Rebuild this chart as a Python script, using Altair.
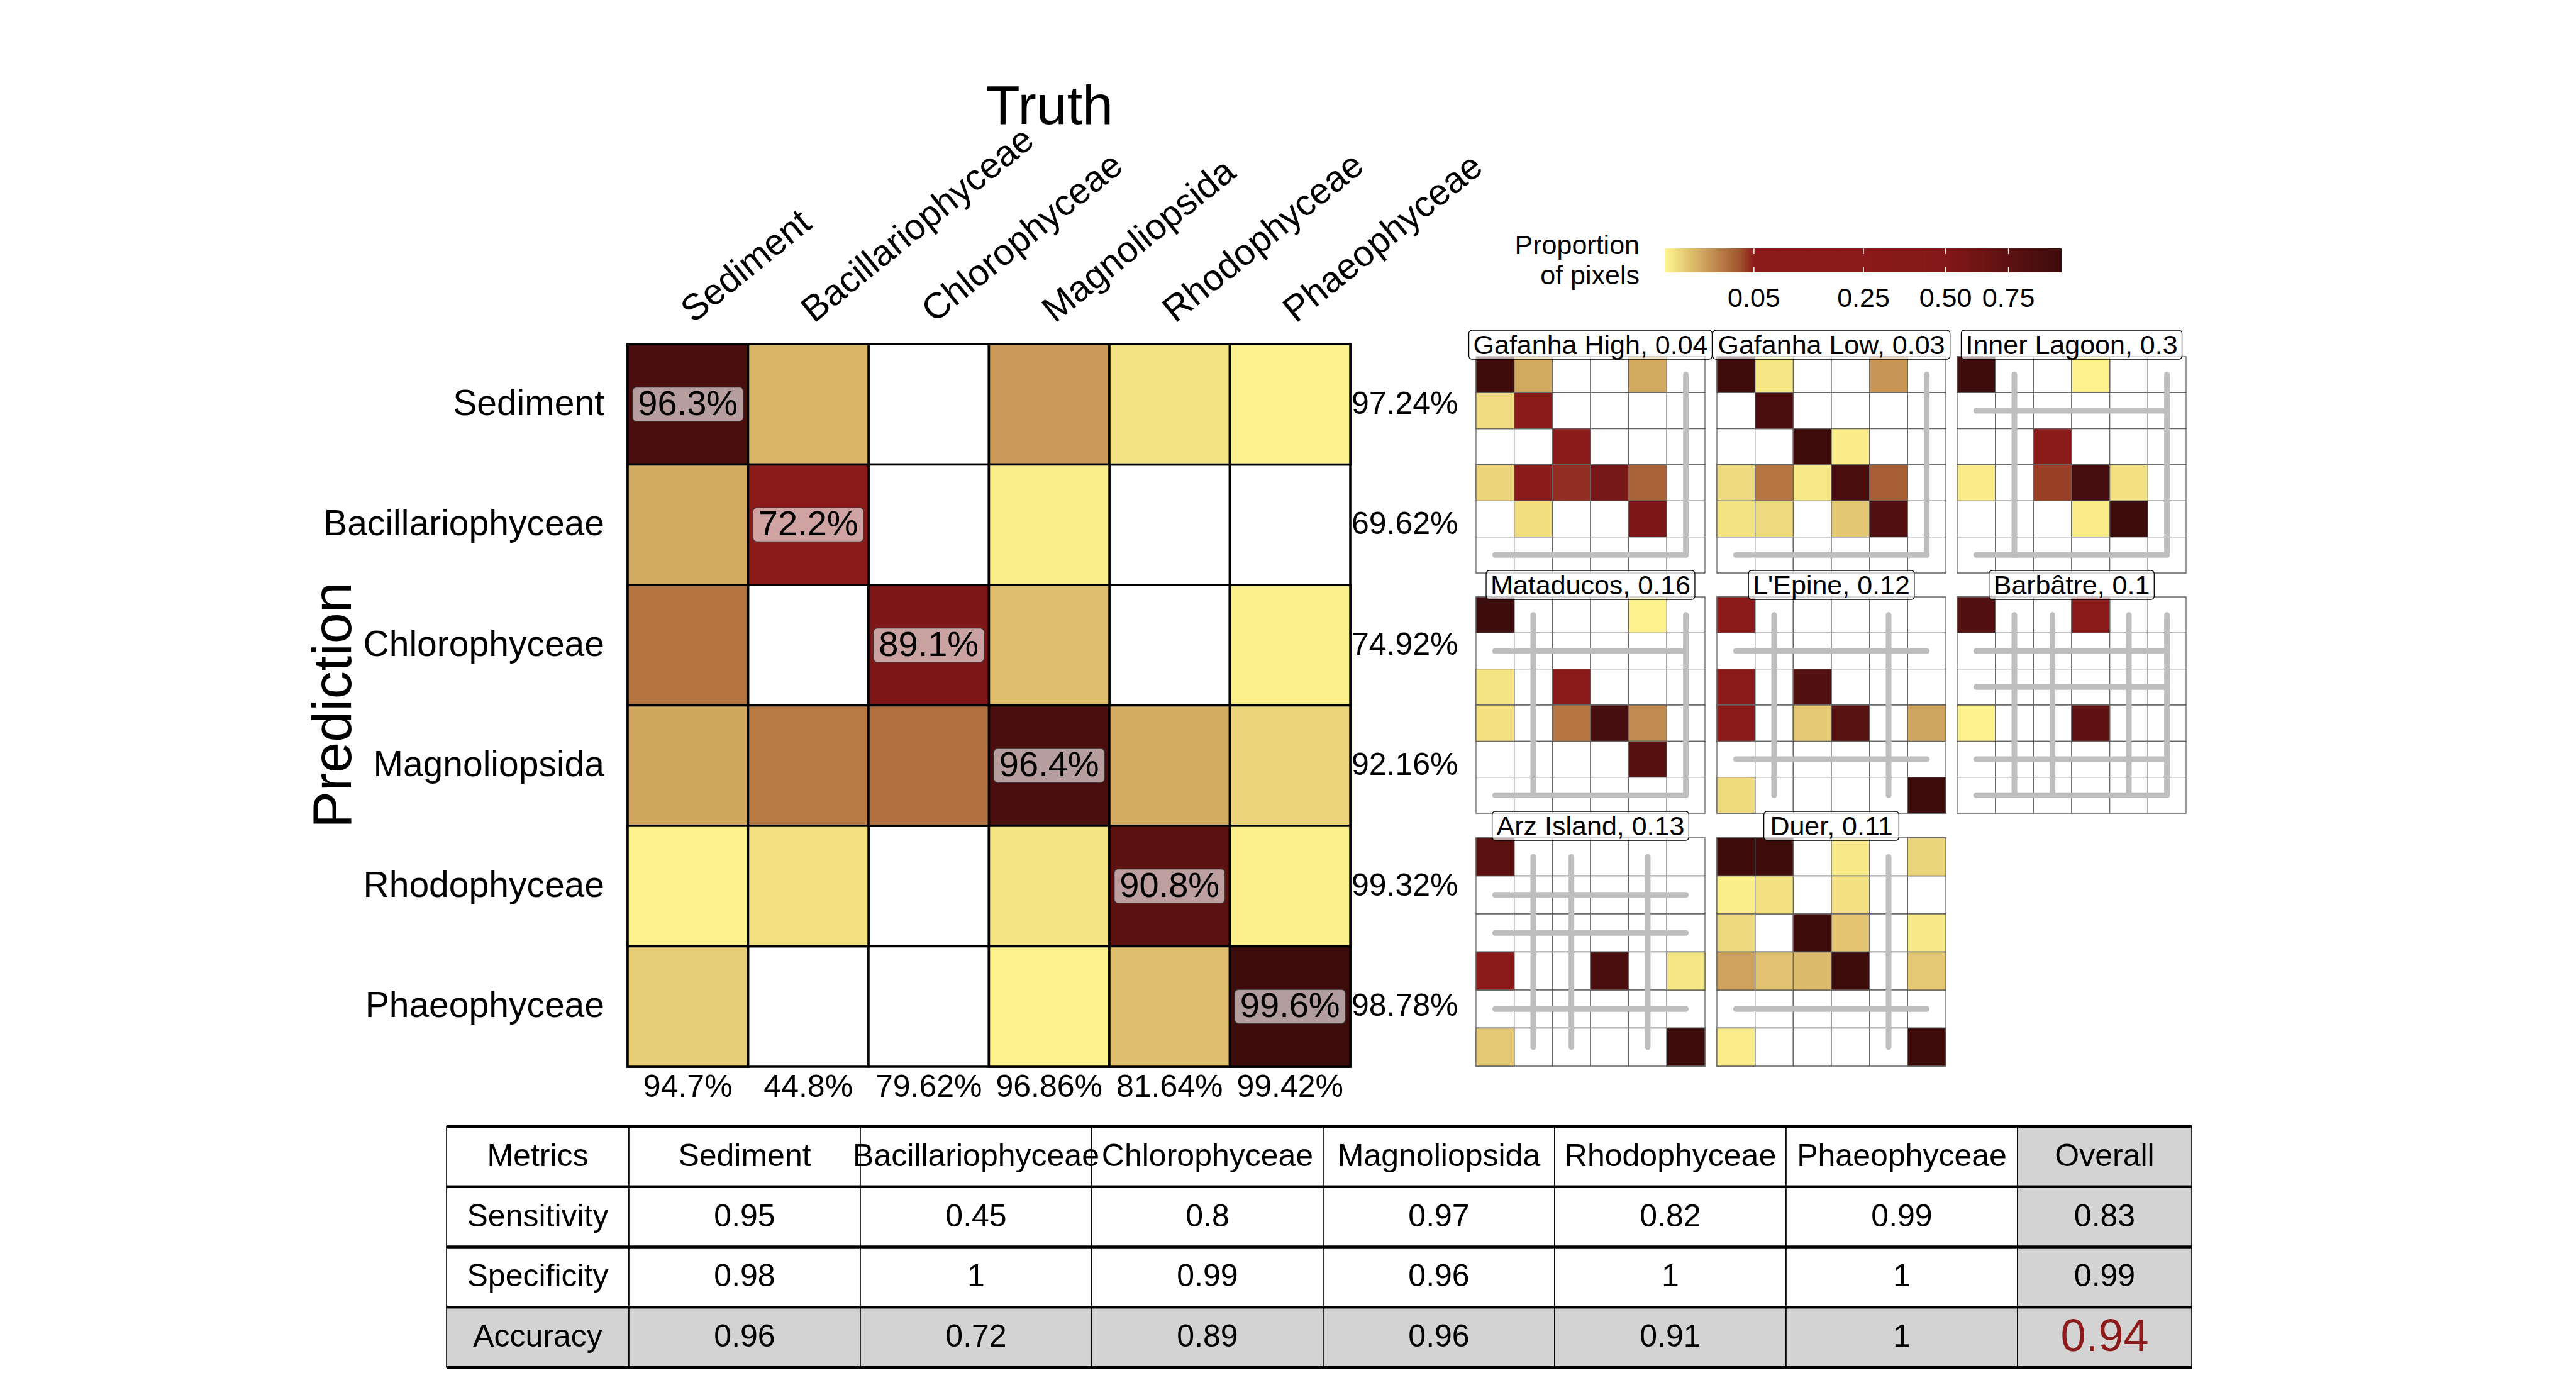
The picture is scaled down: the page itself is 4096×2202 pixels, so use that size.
import altair as alt
import pandas as pd

# ------------------------------------------------------------------ data
CLASSES = ["Sediment", "Bacillariophyceae", "Chlorophyceae",
           "Magnoliopsida", "Rhodophyceae", "Phaeophyceae"]

# proportion of pixels (fill), rows = Prediction, columns = Truth
MAIN_FILL = [
    [0.895, 0.0055, 0, 0.0114, 0.0005, 0.00003],
    [0.0078, 0.15, 0, 0.00009, 0, 0],
    [0.0226, 0, 0.536, 0.0042, 0, 0.00005],
    [0.0084, 0.0206, 0.0237, 0.895, 0.0075, 0.0015],
    [0.00003, 0.00065, 0, 0.00044, 0.761, 0.00005],
    [0.0023, 0, 0, 0.00002, 0.0039, 1.0],
]
DIAG_LABELS = [96.3, 72.2, 89.1, 96.4, 90.8, 99.6]
ROW_PCT = [97.24, 69.62, 74.92, 92.16, 99.32, 98.78]
COL_PCT = [94.7, 44.8, 79.62, 96.86, 81.64, 99.42]

SITES = ["Gafanha High", "Gafanha Low", "Inner Lagoon", "Mataducos",
         "L'Epine", "Barbâtre", "Arz Island", "Duer"]
SITE_SCORES = [0.04, 0.03, 0.3, 0.16, 0.12, 0.1, 0.13, 0.11]

GAFANHA_HIGH = [
    [0.98, 0.008, 0, 0, 0.008, 0],
    [0.0009, 0.15, 0, 0, 0, 0],
    [0, 0, 0.15, 0, 0, 0],
    [0.0015, 0.15, 0.045, 0.585, 0.029, 0],
    [0, 0.0007, 0, 0, 0.536, 0],
    [0, 0, 0, 0, 0, 0],
]
GAFANHA_LOW = [
    [0.98, 0.0003, 0, 0, 0.012, 0],
    [0, 0.895, 0, 0, 0, 0],
    [0, 0, 0.98, 0.00013, 0, 0],
    [0.001, 0.022, 0.00026, 0.895, 0.031, 0],
    [0.0005, 0.001, 0, 0.003, 0.834, 0],
    [0, 0, 0, 0, 0, 0],
]
INNER_LAGOON = [
    [1.0, 0, 0, 0.00003, 0, 0],
    [0, 0, 0, 0, 0, 0],
    [0, 0, 0.15, 0, 0, 0],
    [0.00013, 0, 0.0405, 0.935, 0.00065, 0],
    [0, 0, 0, 0.00013, 1.0, 0],
    [0, 0, 0, 0, 0, 0],
]
MATADUCOS = [
    [1.0, 0, 0, 0, 0.00003, 0],
    [0, 0, 0, 0, 0, 0],
    [0.00044, 0, 0.15, 0, 0, 0],
    [0.00065, 0, 0.022, 0.935, 0.0151, 0],
    [0, 0, 0, 0, 0.805, 0],
    [0, 0, 0, 0, 0, 0],
]
L_EPINE = [
    [0.15, 0, 0, 0, 0, 0],
    [0, 0, 0, 0, 0, 0],
    [0.15, 0, 0.834, 0, 0, 0],
    [0.15, 0, 0.0027, 0.79, 0, 0.0088],
    [0, 0, 0, 0, 0, 0],
    [0.00105, 0, 0, 0, 0, 1.0],
]
BARBATRE = [
    [0.834, 0, 0, 0.15, 0, 0],
    [0, 0, 0, 0, 0, 0],
    [0, 0, 0, 0, 0, 0],
    [0.00003, 0, 0, 0.74, 0, 0],
    [0, 0, 0, 0, 0, 0],
    [0, 0, 0, 0, 0, 0],
]
ARZ_ISLAND = [
    [0.761, 0, 0, 0, 0, 0],
    [0, 0, 0, 0, 0, 0],
    [0, 0, 0, 0, 0, 0],
    [0.15, 0, 0, 0.895, 0, 0.0003],
    [0, 0, 0, 0, 0, 0],
    [0.0028, 0, 0, 0, 0, 1.0],
]
DUER = [
    [0.98, 0.98, 0, 0.00023, 0, 0.0014],
    [0.00007, 0.00065, 0, 0.00065, 0, 0],
    [0.0012, 0, 0.98, 0.0034, 0, 0.00023],
    [0.0092, 0.0036, 0.0048, 0.98, 0, 0.0028],
    [0, 0, 0, 0, 0, 0],
    [0.0001, 0, 0, 0, 0, 0.98],
]
SITE_FILL = [GAFANHA_HIGH, GAFANHA_LOW, INNER_LAGOON, MATADUCOS,
             L_EPINE, BARBATRE, ARZ_ISLAND, DUER]
# classes absent from each site (index into CLASSES)
SITE_ABSENT = [[5], [5], [1, 5], [1, 5], [1, 4], [1, 2, 4, 5], [1, 2, 4], [4]]

METRIC_NAMES = ["Sensitivity", "Specificity", "Accuracy"]
SENSITIVITY = [0.95, 0.45, 0.8, 0.97, 0.82, 0.99]
SPECIFICITY = [0.98, 1, 0.99, 0.96, 1, 1]
ACCURACY = [0.96, 0.72, 0.89, 0.96, 0.91, 1]
OVERALL = [0.83, 0.99, 0.94]

LEGEND_TICKS = [0.05, 0.25, 0.5, 0.75]
LEGEND_TITLE = "Proportion\nof pixels"

# ------------------------------------------------------------------ styles / layout
FONT = "Liberation Sans"
COLOR_SCALE = alt.Scale(
    type="sqrt", domain=[0, 0.0361, 0.0502, 0.25, 0.5, 1],
    range=["#FFF68F", "#A0522D", "#8B1A1A", "#8B1A1A", "#841818", "#3D0C0C"],
    interpolate="rgb", nice=False, clamp=True)

MX = [998, 2147]
MY = [547, 1696]

ARIAL_W = {" ": 278, ",": 278, ".": 278, "'": 191, "A": 667, "B": 667, "D": 722,
           "E": 667, "G": 778, "H": 722, "I": 278, "L": 556, "M": 833,
           "b": 556, "c": 500, "f": 278, "i": 222, "l": 222, "r": 333, "s": 500,
           "t": 278, "z": 500, "w": 722}


def text_width(s, size):
    return sum(ARIAL_W.get(ch, 556) for ch in s) / 1000.0 * size


def band(domain, rng):
    return alt.Scale(type="band", domain=domain, range=rng, paddingInner=0, paddingOuter=0)


# ------------------------------------------------------------------ main matrix
sx_main = band(CLASSES, MX)
sy_main = band(CLASSES, MY)

df_main = pd.DataFrame([
    {"pred": p, "truth": t, "value": MAIN_FILL[i][j]}
    for i, p in enumerate(CLASSES) for j, t in enumerate(CLASSES)
])
XM = alt.X("truth:N", scale=sx_main, axis=None)
YM = alt.Y("pred:N", scale=sy_main, axis=None)

m_bg = alt.Chart(df_main).mark_rect(fill="white", stroke="black", strokeWidth=3.5).encode(x=XM, y=YM)
m_cells = alt.Chart(df_main).transform_filter("datum.value > 0").mark_rect(
    stroke="black", strokeWidth=3.5).encode(
    x=XM, y=YM, color=alt.Color("value:Q", scale=COLOR_SCALE, legend=None))

df_diag = pd.DataFrame({"truth": CLASSES, "pred": CLASSES,
                        "label": [f"{v}%" for v in DIAG_LABELS]})
m_box = alt.Chart(df_diag).mark_rect(
    width=176, height=54, cornerRadius=6, fill="white", fillOpacity=0.6,
    stroke="#333333", strokeWidth=1.2).encode(x=XM, y=YM)
m_diag = alt.Chart(df_diag).mark_text(fontSize=56, baseline="middle", color="black").encode(
    x=XM, y=YM, text="label:N")

df_cls = pd.DataFrame({"cls": CLASSES,
                       "row_pct": [f"{v}%" for v in ROW_PCT],
                       "col_pct": [f"{v}%" for v in COL_PCT]})
row_labels = alt.Chart(df_cls).mark_text(align="right", baseline="middle", fontSize=57).encode(
    y=alt.Y("cls:N", scale=sy_main, axis=None), x=alt.value(961), text="cls:N")
col_labels = alt.Chart(df_cls).mark_text(
    align="left", baseline="alphabetic", angle=321, fontSize=58, dx=6, dy=7).encode(
    x=alt.X("cls:N", scale=sx_main, axis=None), y=alt.value(513), text="cls:N")
right_pct = alt.Chart(df_cls).mark_text(align="left", baseline="middle", fontSize=50).encode(
    y=alt.Y("cls:N", scale=sy_main, axis=None), x=alt.value(2149), text="row_pct:N")
bottom_pct = alt.Chart(df_cls).mark_text(align="center", baseline="middle", fontSize=50).encode(
    x=alt.X("cls:N", scale=sx_main, axis=None), y=alt.value(1729), text="col_pct:N")

truth_title = alt.Chart(pd.DataFrame({"t": ["Truth"]})).mark_text(
    fontSize=88, align="center", baseline="alphabetic").encode(
    x=alt.value(1669), y=alt.value(197), text="t:N")
pred_title = alt.Chart(pd.DataFrame({"t": ["Prediction"]})).mark_text(
    fontSize=88, align="center", baseline="alphabetic", angle=270).encode(
    x=alt.value(558), y=alt.value(1121), text="t:N")

main_layer = alt.layer(m_bg, m_cells, m_box, m_diag, row_labels, col_labels,
                       right_pct, bottom_pct, truth_title, pred_title)

# ------------------------------------------------------------------ legend
sx_leg = alt.Scale(type="sqrt", domain=[0, 1], range=[2648, 3278], nice=False, zero=True)
grad = alt.Chart(alt.sequence(0, 1, 0.004, as_="t")).transform_calculate(
    v0="datum.t * datum.t",
    v1="min(1, pow(datum.t + 0.006, 2))",
    vm="pow(datum.t + 0.002, 2)").mark_rect().encode(
    x=alt.X("v0:Q", scale=sx_leg, axis=None), x2=alt.X2("v1"),
    y=alt.value(395), y2=alt.value(433),
    color=alt.Color("vm:Q", scale=COLOR_SCALE, legend=None))
df_lt = pd.DataFrame({"v": LEGEND_TICKS, "lab": [f"{v:.2f}" for v in LEGEND_TICKS]})
tick_top = alt.Chart(df_lt).mark_rule(color="white", strokeWidth=1.5).encode(
    x=alt.X("v:Q", scale=sx_leg, axis=None), y=alt.value(395), y2=alt.value(404))
tick_bot = alt.Chart(df_lt).mark_rule(color="white", strokeWidth=1.5).encode(
    x=alt.X("v:Q", scale=sx_leg, axis=None), y=alt.value(424), y2=alt.value(433))
leg_labels = alt.Chart(df_lt).mark_text(fontSize=43, baseline="middle").encode(
    x=alt.X("v:Q", scale=sx_leg, axis=None), y=alt.value(475), text="lab:N")
leg_title = alt.Chart(pd.DataFrame({"t": [LEGEND_TITLE]})).mark_text(
    fontSize=43, align="right", baseline="alphabetic", lineBreak="\n", lineHeight=48).encode(
    x=alt.value(2607), y=alt.value(404), text="t:N")
legend_layer = alt.layer(grad, tick_top, tick_bot, leg_labels, leg_title)

# ------------------------------------------------------------------ small multiples
PX0 = [2347, 2730, 3112]
PW = 364
PY0 = [567, 949, 1332]
PH = [344, 344, 363]

panel_layers = []
for k, site in enumerate(SITES):
    c, r = k % 3, k // 3
    sx = band(CLASSES, [PX0[c], PX0[c] + PW])
    sy = band(CLASSES, [PY0[r], PY0[r] + PH[r]])
    fill = SITE_FILL[k]
    df = pd.DataFrame([
        {"pred": p, "truth": t, "value": fill[i][j]}
        for i, p in enumerate(CLASSES) for j, t in enumerate(CLASSES)
    ])
    X = alt.X("truth:N", scale=sx, axis=None)
    Y = alt.Y("pred:N", scale=sy, axis=None)
    bg = alt.Chart(df).mark_rect(fill="white", stroke="#666666", strokeWidth=1.3).encode(x=X, y=Y)
    cells = alt.Chart(df).transform_filter("datum.value > 0").mark_rect(
        stroke="#666666", strokeWidth=1.3).encode(
        x=X, y=Y, color=alt.Color("value:Q", scale=COLOR_SCALE, legend=None))
    layers = [bg, cells]
    absent = [CLASSES[a] for a in SITE_ABSENT[k]]
    df_l = pd.DataFrame({"k": absent, "a": [CLASSES[0]] * len(absent),
                         "b": [CLASSES[-1]] * len(absent)})
    vlines = alt.Chart(df_l).mark_rule(color="#BEBEBE", strokeWidth=9, strokeCap="round").encode(
        x=alt.X("k:N", scale=sx, axis=None), y=alt.Y("a:N", scale=sy, axis=None), y2=alt.Y2("b"))
    hlines = alt.Chart(df_l).mark_rule(color="#BEBEBE", strokeWidth=9, strokeCap="round").encode(
        y=alt.Y("k:N", scale=sy, axis=None), x=alt.X("a:N", scale=sx, axis=None), x2=alt.X2("b"))
    layers += [vlines, hlines]
    title = f"{site}, {SITE_SCORES[k]:g}"
    cx = PX0[c] + PW / 2
    cy = PY0[r] - 19
    w = text_width(title, 43) + 14
    df_t = pd.DataFrame({"title": [title]})
    box = alt.Chart(df_t).mark_rect(
        fill="white", fillOpacity=0.65, stroke="black", strokeWidth=1.3, cornerRadius=5).encode(
        x=alt.value(cx - w / 2), x2=alt.value(cx + w / 2),
        y=alt.value(cy - 23), y2=alt.value(cy + 23))
    ttxt = alt.Chart(df_t).mark_text(fontSize=43, baseline="middle").encode(
        x=alt.value(cx), y=alt.value(cy + 2), text="title:N")
    layers += [box, ttxt]
    panel_layers.append(alt.layer(*layers))

# ------------------------------------------------------------------ metrics table
TCOL_W = [290, 368, 368, 368, 368, 368, 368, 277]
TX0 = 710
TY = [1791, 2174]
edges = [0]
for wdt in TCOL_W:
    edges.append(edges[-1] + wdt)
TROWS = ["Metrics"] + METRIC_NAMES
header = ["Metrics"] + CLASSES + ["Overall"]
metric_vals = [SENSITIVITY, SPECIFICITY, ACCURACY]

trows = []
for ri, rname in enumerate(TROWS):
    for j in range(8):
        if ri == 0:
            txt = header[j]
        elif j == 0:
            txt = rname
        elif j == 7:
            txt = f"{OVERALL[ri - 1]:g}"
        else:
            txt = f"{metric_vals[ri - 1][j - 1]:g}"
        grey = (j == 7) or (rname == "Accuracy")
        trows.append({"row": rname, "x0": edges[j], "x1": edges[j + 1],
                      "xm": (edges[j] + edges[j + 1]) / 2, "txt": txt,
                      "bg": "#D3D3D3" if grey else "white",
                      "hi": (rname == "Accuracy" and j == 7)})
df_tab = pd.DataFrame(trows)
sxt = alt.Scale(type="linear", domain=[0, edges[-1]], range=[TX0, TX0 + edges[-1]], nice=False, zero=False)
syt = band(TROWS, TY)
t_cells = alt.Chart(df_tab).mark_rect(stroke="black", strokeWidth=1.6).encode(
    x=alt.X("x0:Q", scale=sxt, axis=None), x2=alt.X2("x1"),
    y=alt.Y("row:N", scale=syt, axis=None),
    fill=alt.Fill("bg:N", scale=None))
df_hl = pd.DataFrame({"row": TROWS, "a": [0] * 4, "b": [edges[-1]] * 4})
t_top = alt.Chart(df_hl).mark_rule(color="black", strokeWidth=4).encode(
    y=alt.Y("row:N", scale=syt, axis=None, bandPosition=0),
    x=alt.X("a:Q", scale=sxt, axis=None), x2=alt.X2("b"))
t_bot = alt.Chart(df_hl).mark_rule(color="black", strokeWidth=4).encode(
    y=alt.Y("row:N", scale=syt, axis=None, bandPosition=1),
    x=alt.X("a:Q", scale=sxt, axis=None), x2=alt.X2("b"))
t_text = alt.Chart(df_tab).transform_filter("!datum.hi").mark_text(
    fontSize=50, baseline="middle", color="black").encode(
    x=alt.X("xm:Q", scale=sxt, axis=None), y=alt.Y("row:N", scale=syt, axis=None), text="txt:N")
t_hi = alt.Chart(df_tab).transform_filter("datum.hi").mark_text(
    fontSize=72, baseline="middle", color="#8B1A1A").encode(
    x=alt.X("xm:Q", scale=sxt, axis=None), y=alt.Y("row:N", scale=syt, axis=None), text="txt:N")
table_layer = alt.layer(t_cells, t_top, t_bot, t_text, t_hi)

# ------------------------------------------------------------------ assemble
chart = alt.layer(main_layer, legend_layer, *panel_layers, table_layer).resolve_scale(
    x="independent", y="independent", color="shared").properties(
    width=4096, height=2202, padding=0, background="white",
    autosize=alt.AutoSizeParams(type="none")).configure_view(
    stroke=None).configure_text(font=FONT)

chart.save("out.html", embed_options={"renderer": "svg", "actions": False})
